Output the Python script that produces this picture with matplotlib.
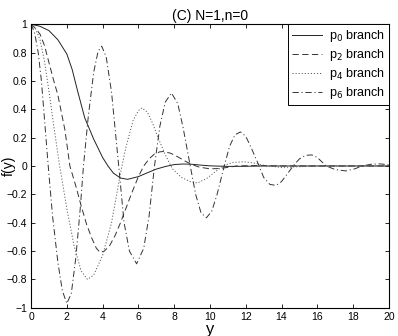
import numpy as np
import matplotlib
matplotlib.use("Agg")
import matplotlib.pyplot as plt

plt.rcParams['font.family'] = ['Liberation Sans', 'DejaVu Sans']
plt.rcParams['lines.scale_dashes'] = False

# p0 branch (solid)
x0 = [0, 0.5, 1.0, 1.5, 2.0, 2.3, 2.6, 3.0, 3.5, 4.0, 4.3, 4.6, 5.0, 5.4, 6.0,
      6.5, 7.0, 7.5, 8.0, 8.5, 9.0, 9.5, 10, 11, 12, 13, 20]
f0 = [1.0, 0.985, 0.955, 0.89, 0.79, 0.68, 0.53, 0.34, 0.19, 0.06, 0.0, -0.05,
      -0.085, -0.094, -0.075, -0.048, -0.022, -0.004, 0.01, 0.014, 0.012, 0.006,
      0.001, -0.003, -0.002, 0.0, 0.0]

# p2 branch (dashed)
x2 = [0, 0.25, 0.5, 0.75, 1.0, 1.25, 1.5, 1.9, 2.17, 2.5, 2.8, 3.1, 3.4, 3.65,
      3.86, 4.1, 4.4, 4.7, 5.0, 5.3, 5.6, 6.0, 6.3, 6.6, 6.9, 7.2, 7.4, 7.8,
      8.2, 8.6, 9.0, 9.4, 10.0, 10.5, 11.0, 11.5, 12.5, 14, 20]
f2 = [1.0, 0.97, 0.93, 0.85, 0.73, 0.61, 0.5, 0.25, 0.0, -0.14, -0.28, -0.41,
      -0.51, -0.58, -0.61, -0.6, -0.56, -0.49, -0.4, -0.3, -0.2, -0.075, 0.0,
      0.05, 0.085, 0.1, 0.102, 0.09, 0.065, 0.035, 0.01, -0.008, -0.02, -0.018,
      -0.01, 0.0, 0.003, 0.0, 0.0]

# p4 branch (dotted)
x4 = [0, 0.25, 0.5, 0.75, 1.0, 1.25, 1.6, 2.0, 2.4, 2.8, 3.15, 3.5, 4.0, 4.5,
      5.0, 5.3, 5.7, 6.0, 6.2, 6.5, 6.8, 7.1, 7.5, 7.9, 8.4, 8.9, 9.3, 9.8,
      10.3, 10.8, 11.3, 11.9, 12.5, 13.2, 14, 15, 16, 20]
f4 = [1.0, 0.97, 0.89, 0.74, 0.53, 0.3, 0.0, -0.3, -0.56, -0.74, -0.8, -0.77,
      -0.63, -0.4, -0.05, 0.13, 0.32, 0.39, 0.41, 0.38, 0.3, 0.2, 0.08, -0.02,
      -0.08, -0.11, -0.12, -0.09, -0.04, 0.005, 0.025, 0.03, 0.02, 0.0, -0.01,
      -0.005, 0.0, 0.0]

# p6 branch (dash-dot)
x6 = [0, 0.2, 0.4, 0.58, 0.77, 0.96, 1.2, 1.5, 1.75, 2.0, 2.25, 2.5, 2.75,
      2.93, 3.2, 3.5, 3.75, 3.95, 4.2, 4.5, 4.9, 5.2, 5.5, 5.9, 6.3, 6.6, 6.9,
      7.2, 7.5, 7.85, 8.2, 8.5, 8.9, 9.2, 9.5, 9.8, 10.1, 10.4, 10.8, 11.1,
      11.4, 11.7, 12.0, 12.3, 12.75, 13.0, 13.35, 13.7, 14.0, 14.3, 14.65,
      15.0, 15.35, 15.7, 16.0, 16.5, 17.0, 17.6, 18.1, 18.5, 19.0, 19.5, 20]
f6 = [1.0, 0.94, 0.8, 0.6, 0.3, 0.0, -0.35, -0.68, -0.88, -0.97, -0.9, -0.65,
      -0.3, 0.0, 0.35, 0.66, 0.81, 0.845, 0.77, 0.52, 0.0, -0.4, -0.6, -0.69,
      -0.58, -0.35, 0.0, 0.28, 0.45, 0.515, 0.44, 0.27, 0.0, -0.2, -0.33,
      -0.365, -0.32, -0.2, 0.0, 0.14, 0.22, 0.24, 0.21, 0.13, 0.0, -0.08,
      -0.13, -0.137, -0.11, -0.06, 0.0, 0.05, 0.075, 0.078, 0.06, 0.0, -0.025,
      -0.035, -0.02, 0.0, 0.012, 0.015, 0.008]

xticks = np.arange(0, 21, 2)
yticks = np.round(np.arange(-1, 1.01, 0.2), 1)
ytick_labels = ['\u22121', '\u22120.8', '\u22120.6', '\u22120.4', '\u22120.2',
                '0', '0.2', '0.4', '0.6', '0.8', '1']

fig = plt.figure(figsize=(3.98, 3.36), dpi=100)
ax = fig.add_axes([0.078, 0.084, 0.899, 0.844])

ax.plot(x0, f0, color='#222222', lw=0.7, ls='-', label='p$_0$ branch')
ax.plot(x2, f2, color='#333333', lw=0.7, dashes=(4.5, 2.5), label='p$_2$ branch')
ax.plot(x4, f4, color='#555555', lw=0.7, dashes=(0.8, 1.4), label='p$_4$ branch')
ax.plot(x6, f6, color='#333333', lw=0.7, dashes=(4.5, 2, 0.8, 2), label='p$_6$ branch')

ax.set_xlim(0, 20)
ax.set_ylim(-1, 1)
ax.set_xticks(xticks)
ax.set_yticks(yticks)
ax.set_yticklabels(ytick_labels)
ax.tick_params(direction='in', length=3, width=0.6, labelsize=7.5,
               top=True, right=True, pad=3)
for s in ax.spines.values():
    s.set_linewidth(0.8)

ax.set_title('(C) N=1,n=0', fontsize=10, pad=3)
ax.set_xlabel('y', fontsize=12, labelpad=0)
ax.set_ylabel('f(y)', fontsize=10)
ax.yaxis.set_label_coords(-0.043, 0.5)

leg = ax.legend(loc='upper right', borderaxespad=0, fontsize=9, handlelength=2.4,
                fancybox=False, edgecolor='black', framealpha=1,
                labelspacing=0.25, borderpad=0.3, handletextpad=0.6)
leg.get_frame().set_linewidth(0.7)

fig.savefig('out.png', dpi=100)
